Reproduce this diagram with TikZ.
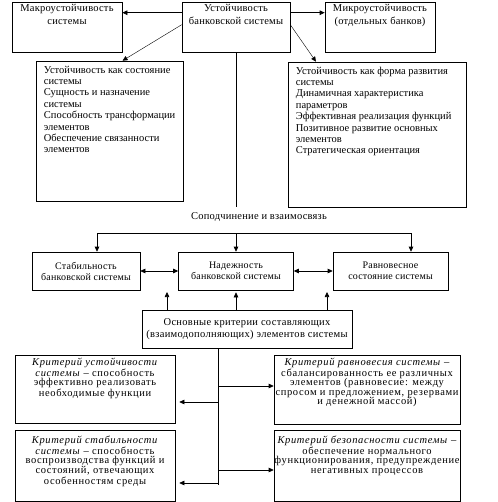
\documentclass[tikz,border=0pt]{standalone}
\usepackage{fontspec}
\setmainfont{Liberation Serif}
\usetikzlibrary{arrows.meta,positioning}

\tikzset{
  frameBox/.style={draw=black, line width=0.6pt, inner sep=0pt},
  headText/.style={font=\fontsize{10.5}{13}\selectfont\addfontfeature{LetterSpace=2},
    align=center, inner sep=0pt},
  midText/.style={font=\fontsize{10}{11}\selectfont\addfontfeature{LetterSpace=2},
    align=center, inner sep=0pt},
  listText/.style={font=\fontsize{10.5}{11.4}\selectfont, align=left, inner sep=0pt},
  critText/.style={font=\fontsize{10.5}{9.6}\selectfont\addfontfeature{LetterSpace=6},
    align=center, inner sep=0pt},
  flowArrow/.style={-{Triangle[length=5pt,width=4.5pt]}, line width=0.6pt},
  bothArrow/.style={{Triangle[length=5pt,width=4.5pt]}-{Triangle[length=5pt,width=4.5pt]}, line width=0.6pt},
  hintArrow/.style={-{Triangle[length=5pt,width=4.5pt]}, line width=0.4pt},
  plainLine/.style={line width=0.6pt}
}

\begin{document}
\begin{tikzpicture}[x=1pt,y=-1pt]
  \useasboundingbox (0,0) rectangle (497,502);

  % top row
  \node[frameBox, minimum width=110pt, minimum height=50pt] (macro) at (67,27) {};
  \node[headText, below=2.5pt of macro.north] (macroText) {Макроустойчивость\\системы};
  \node[frameBox, minimum width=108pt, minimum height=50pt] (sys) at (236,27) {};
  \node[headText, below=2.5pt of sys.north] (sysText) {Устойчивость\\банковской системы};
  \node[frameBox, minimum width=110pt, minimum height=50pt] (micro) at (380,27) {};
  \node[headText, below=2.5pt of micro.north] (microText) {Микроустойчивость\\(отдельных банков)};

  \draw[flowArrow] ([yshift=-11pt]sys.north west) -- ([yshift=-11pt]macro.north east);
  \draw[flowArrow] ([yshift=-11pt]sys.north east) -- ([yshift=-11pt]micro.north west);

  % two descriptions
  \node[frameBox, minimum width=147pt, minimum height=140pt] (stateBox) at (109.5,131) {};
  \node[listText, below right=5pt and 8pt of stateBox.north west] (stateText)
    {Устойчивость как состояние\\системы\\Сущность и назначение\\системы\\Способность трансформации\\элементов\\Обеспечение связанности\\элементов};
  \node[frameBox, minimum width=178pt, minimum height=145pt] (formBox) at (377,134.5) {};
  \node[listText, below right=5pt and 8pt of formBox.north west] (formText)
    {Устойчивость как форма развития\\системы\\Динамичная характеристика\\параметров\\Эффективная реализация функций\\Позитивное развитие основных\\элементов\\Стратегическая ориентация};

  \draw[hintArrow] ([yshift=-23pt]sys.north west) -- ([xshift=13pt]stateBox.north);
  \draw[hintArrow] ([yshift=-23pt]sys.north east) -- ([xshift=-61pt]formBox.north);
  \draw[plainLine] (sys.south) -- (sys.south |- formBox.south);

  \node[midText, font=\fontsize{10.5}{11}\selectfont\addfontfeature{LetterSpace=2}] (link) at (259,217)
    {Соподчинение и взаимосвязь};

  % middle row
  \node[frameBox, minimum width=108pt, minimum height=38pt, midText] (stab) at (86,271)
    {Стабильность\\банковской системы};
  \node[frameBox, minimum width=115pt, minimum height=38pt, midText] (nad) at (236,271)
    {Надежность\\банковской системы};
  \node[frameBox, minimum width=115pt, minimum height=38pt, midText] (ravn) at (390.5,271)
    {Равновесное\\состояние системы};

  \coordinate (busL) at (97,233);
  \coordinate (busR) at (411,233);
  \draw[plainLine] (busL) -- (busR);
  \draw[flowArrow] (busL) -- (busL |- stab.north);
  \draw[flowArrow] (nad.north |- busL) -- (nad.north);
  \draw[flowArrow] (busR) -- (busR |- ravn.north);
  \draw[bothArrow] (stab.east) -- (nad.west);
  \draw[bothArrow] (nad.east) -- (ravn.west);

  % criteria
  \node[frameBox, minimum width=210pt, minimum height=38pt, midText,
        font=\fontsize{10.5}{12.5}\selectfont\addfontfeature{LetterSpace=3}] (crit) at (247,329)
    {Основные критерии составляющих\\(взаимодополняющих) элементов системы};

  \coordinate (upL) at (167,292);
  \coordinate (upR) at (327,292);
  \draw[flowArrow] (crit.north -| upL) -- (upL);
  \draw[flowArrow] (crit.north -| nad.south) -- ([yshift=-2pt]nad.south);
  \draw[flowArrow] (crit.north -| upR) -- (upR);

  \node[frameBox, minimum width=160pt, minimum height=68pt] (sustCrit) at (95,389) {};
  \node[critText, below=3pt of sustCrit.north] (sustText)
    {\textit{Критерий устойчивости}\\\textit{системы} – способность\\эффективно реализовать\\необходимые функции};
  \node[frameBox, minimum width=160pt, minimum height=71pt] (stabCrit) at (95,465.5) {};
  \node[critText, below=6pt of stabCrit.north] (stabText)
    {\textit{Критерий стабильности}\\\textit{системы} – способность\\воспроизводства функций и\\состояний, отвечающих\\особенностям среды};
  \node[frameBox, minimum width=186pt, minimum height=69pt] (eqCrit) at (367,389.5) {};
  \node[critText, below=3pt of eqCrit.north] (eqText)
    {\textit{Критерий равновесия системы} –\\сбалансированность ее различных\\элементов (равновесие: между\\спросом и предложением, резервами\\и денежной массой)};
  \node[frameBox, minimum width=186pt, minimum height=71pt] (safeCrit) at (367,465.5) {};
  \node[critText, below=6pt of safeCrit.north] (safeText)
    {\textit{Критерий безопасности системы} –\\обеспечение нормального\\функционирования, предупреждение\\негативных процессов};

  \coordinate (critDrop) at (218,485);
  \coordinate (eqIn) at ([yshift=3.5pt]eqCrit.west);
  \coordinate (sustIn) at ([yshift=-13pt]sustCrit.east);
  \coordinate (safeIn) at ([yshift=-4.5pt]safeCrit.west);
  \coordinate (stabIn) at ([yshift=-17.5pt]stabCrit.east);
  \draw[plainLine] (crit.south -| critDrop) -- (critDrop);
  \draw[flowArrow] (critDrop |- eqIn) -- (eqIn);
  \draw[flowArrow, shorten >=4pt] (critDrop |- sustIn) -- (sustIn);
  \draw[flowArrow] (critDrop |- safeIn) -- (safeIn);
  \draw[flowArrow, shorten >=4pt] (critDrop |- stabIn) -- (stabIn);
\end{tikzpicture}
\end{document}
